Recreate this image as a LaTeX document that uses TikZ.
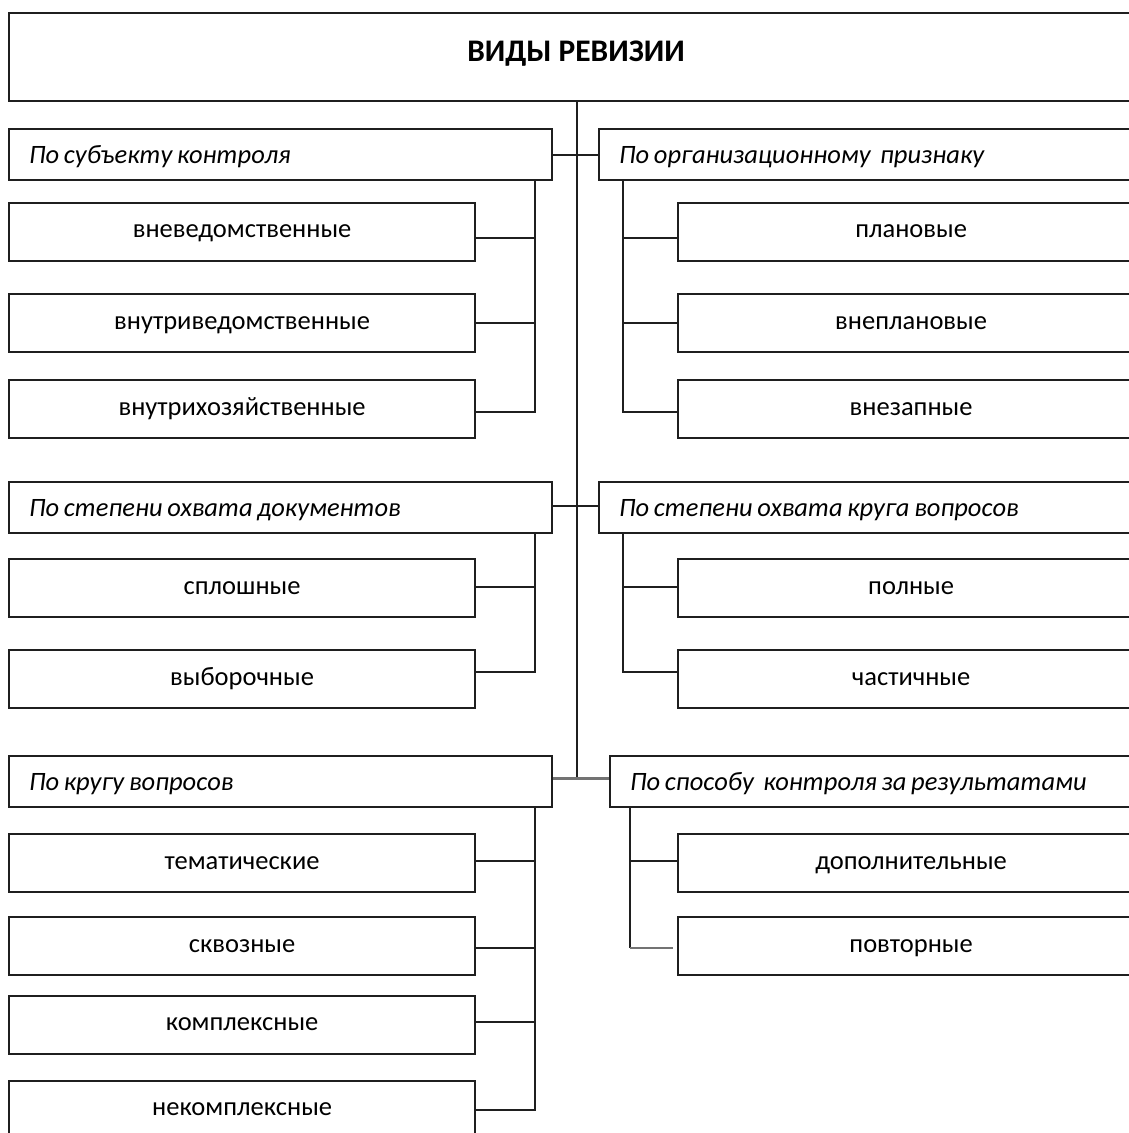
\documentclass[tikz,border=0pt]{standalone}
\usepackage{fontspec}
\setmainfont{Carlito}
\begin{document}
\begin{tikzpicture}[x=1pt,y=-1pt,
  frame/.style={draw=black!88,line width=2.2pt,fill=white,inner sep=0pt},
  titlebox/.style={frame,anchor=north west,minimum width=1134pt,minimum height=88pt,
    text height=20pt,text depth=12pt,font=\fontsize{31.4}{36}\selectfont\bfseries},
  catbox/.style={frame,anchor=north west,minimum height=51pt,text width=503pt,inner xsep=20pt,
    align=left,text height=17pt,text depth=0pt,
    font=\fontsize{26.5}{30}\selectfont\itshape,
    execute at begin node={\spaceskip=0.18em\relax}},
  itembox/.style={frame,anchor=north west,minimum width=466pt,minimum height=58pt,
    text height=12.4pt,text depth=0pt,font=\fontsize{26.5}{30}\selectfont},
  link/.style={draw=black!88,line width=2.2pt},
  graylink/.style={draw=black!55,line width=2.6pt}]
\useasboundingbox (0,0) rectangle (1129,1133);
\clip (0,0) rectangle (1129,1133);

% title
\node[titlebox] (top) at (8,12) {ВИДЫ РЕВИЗИИ};

% category headers
\node[catbox] (c1L) at (8,128) {По субъекту контроля};
\node[catbox] (c1R) at (598,128) {По организационному\ \ признаку};
\node[catbox] (c2L) at (8,481) {По степени охвата документов};
\node[catbox] (c2R) at (598,481) {По степени охвата круга вопросов};
\node[catbox] (c3L) at (8,755) {По кругу вопросов};
\node[catbox] (c3R) at (609,755) {По способу\ \ контроля за результатами};

% items, left column
\node[itembox] (a1) at (8,201.5) {вневедомственные};
\node[itembox] (a2) at (8,293) {внутриведомственные};
\node[itembox] (a3) at (8,379) {внутрихозяйственные};
\node[itembox] (b1) at (8,558) {сплошные};
\node[itembox] (b2) at (8,649) {выборочные};
\node[itembox] (d1) at (8,833) {тематические};
\node[itembox] (d2) at (8,916) {сквозные};
\node[itembox] (d3) at (8,994.5) {комплексные};
\node[itembox] (d4) at (8,1079.5) {некомплексные};

% items, right column
\node[itembox] (p1) at (677,201.5) {плановые};
\node[itembox] (p2) at (677,293) {внеплановые};
\node[itembox] (p3) at (677,379) {внезапные};
\node[itembox] (q1) at (677,558) {полные};
\node[itembox] (q2) at (677,649) {частичные};
\node[itembox] (r1) at (677,833) {дополнительные};
\node[itembox] (r2) at (677,916) {повторные};

% trunk and header links
\coordinate (trunk) at ([xshift=1pt]top.south);
\coordinate (j3) at ([yshift=3pt]c3L.east);
\draw[link] (trunk) -- (trunk |- j3);
\draw[link] (c1L.east) -- (c1R.west);
\draw[link] ([yshift=2pt]c2L.east) -- ([yshift=2pt]c2R.west);
\draw[graylink] (j3) -- ([yshift=3pt]c3R.west);

% vertical buses under the headers
\coordinate (busA) at ([xshift=-18pt]c1L.south east);
\coordinate (busP) at ([xshift=25pt]c1R.south west);
\coordinate (busB) at ([xshift=-18pt]c2L.south east);
\coordinate (busQ) at ([xshift=25pt]c2R.south west);
\coordinate (busD) at ([xshift=-18pt]c3L.south east);
\coordinate (busR) at ([xshift=21pt]c3R.south west);

% branches to the items
\foreach \n/\dy in {a1/-6.5,a2/0,a3/-3} \draw[link] ([yshift=\dy pt]\n.east) -| (busA);
\foreach \n/\dy in {p1/-6.5,p2/0,p3/-3} \draw[link] ([yshift=\dy pt]\n.west) -| (busP);
\foreach \n/\dy in {b1/1,b2/7} \draw[link] ([yshift=\dy pt]\n.east) -| (busB);
\foreach \n/\dy in {q1/1,q2/7} \draw[link] ([yshift=\dy pt]\n.west) -| (busQ);
\foreach \n/\dy in {d1/2,d2/-2,d3/2.5,d4/0} \draw[link] ([yshift=\dy pt]\n.east) -| (busD);
\draw[link] ([yshift=2pt]r1.west) -| (busR);
\coordinate (r2in) at ([xshift=-4pt,yshift=-2pt]r2.west);
\draw[link] (busR) -- (busR |- r2in);
\draw[graylink] (busR |- r2in) -- (r2in);
\end{tikzpicture}
\end{document}
